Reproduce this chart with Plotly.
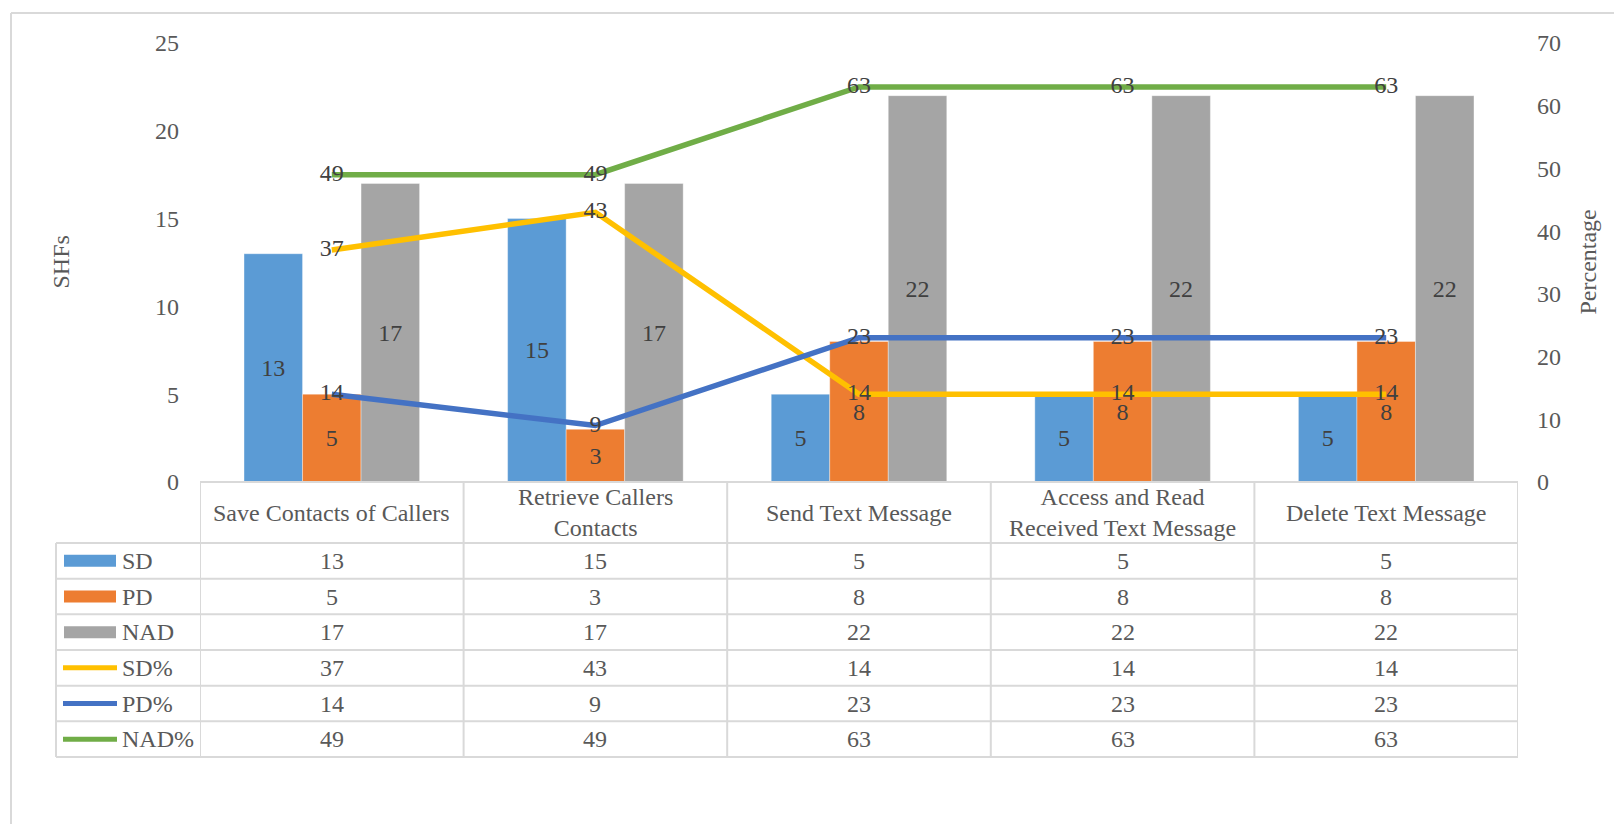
import plotly.graph_objects as go

# ---------------- data ----------------
categories = ["Save Contacts of Callers", "Retrieve Callers Contacts", "Send Text Message",
              "Access and Read Received Text Message", "Delete Text Message"]
category_labels = ["Save Contacts of Callers", "Retrieve Callers<br>Contacts", "Send Text Message",
                   "Access and Read<br>Received Text Message", "Delete Text Message"]
sd = [13, 15, 5, 5, 5]
pd_ = [5, 3, 8, 8, 8]
nad = [17, 17, 22, 22, 22]
sd_pct = [37, 43, 14, 14, 14]
pd_pct = [14, 9, 23, 23, 23]
nad_pct = [49, 49, 63, 63, 63]
left_ticks = [0, 5, 10, 15, 20, 25]
right_ticks = [0, 10, 20, 30, 40, 50, 60, 70]

bar_series = [("SD", sd, "#5B9BD5"), ("PD", pd_, "#ED7D31"), ("NAD", nad, "#A5A5A5")]
line_series = [("SD%", sd_pct, "#FFC000"), ("PD%", pd_pct, "#4472C4"), ("NAD%", nad_pct, "#70AD47")]

# ---------------- geometry ----------------
W, H = 1614, 824
L, R, T, B = 200, 96, 43, 342
PW, PH = W - L - R, H - T - B
FONT = "Liberation Serif, Times New Roman, serif"
LABEL_C = "#404040"
TEXT_C = "#595959"
GRID_C = "#D9D9D9"


def px(x):
    return (x - L) / PW


def py(y):
    return (H - B - y) / PH


fig = go.Figure()

for name, vals, col in bar_series:
    fig.add_trace(go.Bar(
        x=categories, y=vals, name=name, marker=dict(color=col, line=dict(width=0.6, color="rgba(255,255,255,0.6)")),
        text=[str(v) for v in vals], textposition="inside", insidetextanchor="middle",
        textfont=dict(family=FONT, size=24, color=LABEL_C), constraintext="none",
        yaxis="y", showlegend=False, hoverinfo="skip"))

for name, vals, col in line_series:
    fig.add_trace(go.Scatter(
        x=categories, y=vals, name=name, mode="lines+text",
        line=dict(color=col, width=5.5),
        text=[str(v) for v in vals], textposition="middle center",
        textfont=dict(family=FONT, size=24, color=LABEL_C),
        yaxis="y2", showlegend=False, hoverinfo="skip", cliponaxis=False))

shapes = []
annotations = []

# outer chart border (left and top)
shapes.append(dict(type="line", xref="paper", yref="paper", x0=px(11), x1=px(1640), y0=py(13), y1=py(13),
                   line=dict(color=GRID_C, width=2)))
shapes.append(dict(type="line", xref="paper", yref="paper", x0=px(11), x1=px(11), y0=py(13), y1=py(840),
                   line=dict(color=GRID_C, width=2)))

# data table
header_top, header_bot = 482, 543
row_h = (757 - 543) / 6
row_edges = [header_bot + i * row_h for i in range(7)]
legend_left = 56

# horizontal lines
shapes.append(dict(type="line", xref="x", yref="paper", x0=-0.5, x1=len(categories) - 0.5,
                   y0=py(header_top), y1=py(header_top), line=dict(color=GRID_C, width=2)))
for ye in row_edges:
    shapes.append(dict(type="line", xref="paper", yref="paper", x0=px(legend_left), x1=1.0,
                       y0=py(ye), y1=py(ye), line=dict(color=GRID_C, width=2)))
# vertical lines
for i in range(len(categories) + 1):
    shapes.append(dict(type="line", xref="x", yref="paper", x0=i - 0.5, x1=i - 0.5,
                       y0=py(header_top), y1=py(row_edges[-1]), line=dict(color=GRID_C, width=2)))
shapes.append(dict(type="line", xref="paper", yref="paper", x0=px(legend_left), x1=px(legend_left),
                   y0=py(header_bot), y1=py(row_edges[-1]), line=dict(color=GRID_C, width=2)))

# header labels
for i, lab in enumerate(category_labels):
    annotations.append(dict(xref="x", yref="paper", x=i, y=py((header_top + header_bot) / 2),
                            text=lab, showarrow=False, xanchor="center", yanchor="middle",
                            font=dict(family=FONT, size=24, color=TEXT_C)))

rows = [(n, v, c, "bar") for n, v, c in bar_series] + [(n, v, c, "line") for n, v, c in line_series]
for r, (name, vals, col, kind) in enumerate(rows):
    yc = (row_edges[r] + row_edges[r + 1]) / 2
    if kind == "bar":
        shapes.append(dict(type="rect", xref="paper", yref="paper", x0=px(64), x1=px(116),
                           y0=py(yc - 6), y1=py(yc + 6), fillcolor=col, line=dict(width=0)))
    else:
        shapes.append(dict(type="line", xref="paper", yref="paper", x0=px(63), x1=px(117),
                           y0=py(yc), y1=py(yc), line=dict(color=col, width=5)))
    annotations.append(dict(xref="paper", yref="paper", x=px(120), y=py(yc), text=name, showarrow=False,
                            xanchor="left", yanchor="middle", font=dict(family=FONT, size=24, color=TEXT_C)))
    for i, v in enumerate(vals):
        annotations.append(dict(xref="x", yref="paper", x=i, y=py(yc), text=str(v), showarrow=False,
                                xanchor="center", yanchor="middle", font=dict(family=FONT, size=24, color=TEXT_C)))

# axis titles
annotations.append(dict(xref="paper", yref="paper", x=px(60), y=0.5, text="SHFs", textangle=-90,
                        showarrow=False, xanchor="center", yanchor="middle",
                        font=dict(family=FONT, size=24, color=TEXT_C)))
annotations.append(dict(xref="paper", yref="paper", x=px(1587), y=0.5, text="Percentage", textangle=-90,
                        showarrow=False, xanchor="center", yanchor="middle",
                        font=dict(family=FONT, size=24, color=TEXT_C)))

fig.update_layout(
    width=W, height=H, autosize=False,
    margin=dict(l=L, r=R, t=T, b=B, pad=0),
    paper_bgcolor="white", plot_bgcolor="white",
    barmode="group", bargap=0.334, bargroupgap=0,
    xaxis=dict(type="category", range=[-0.5, len(categories) - 0.5], showticklabels=False,
               showgrid=False, zeroline=False, showline=False, ticks=""),
    yaxis=dict(range=[0, 25], tickvals=left_ticks, showgrid=False, zeroline=False, showline=False,
               ticks="", ticklabelstandoff=20,
               tickfont=dict(family=FONT, size=24, color=TEXT_C)),
    yaxis2=dict(range=[0, 70], tickvals=right_ticks, overlaying="y", side="right", showgrid=False,
                zeroline=False, showline=False, ticks="", ticklabelstandoff=18,
                tickfont=dict(family=FONT, size=24, color=TEXT_C)),
    shapes=shapes, annotations=annotations, showlegend=False,
)

fig.write_html("out.html")
